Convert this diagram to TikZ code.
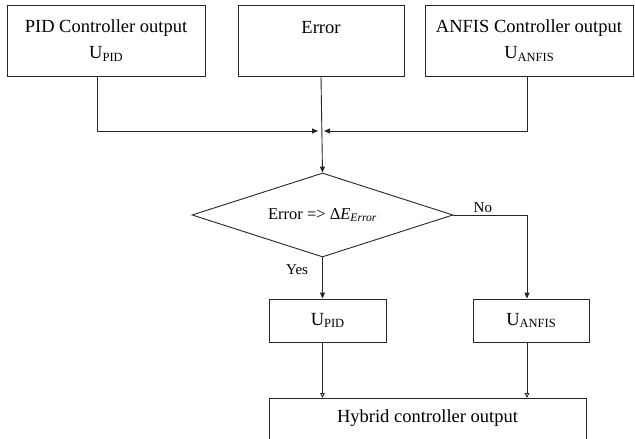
\documentclass[tikz,border=0pt]{standalone}
\usepackage{fontspec}
\setmainfont{Liberation Serif}
\usetikzlibrary{shapes.geometric,arrows.meta}

\newcommand{\usub}[1]{U\raisebox{-2.5pt}{\fontsize{12.5}{12.5}\selectfont #1}}

\tikzset{
	blk/.style={draw=black!85, line width=0.9pt, inner sep=0pt, align=center,
		font=\fontsize{18.5}{26}\selectfont},
	dec/.style={draw=black!85, line width=0.9pt, diamond, aspect=3.1, inner sep=0pt,
		font=\fontsize{16.5}{19}\selectfont},
	tip/.style={draw=black!85, line width=0.9pt, -{Triangle[length=6pt,width=5pt]}},
	otip/.style={draw=black!85, line width=0.9pt, -{Triangle[open,length=5pt,width=4.5pt]}},
	lbl/.style={font=\fontsize{15}{17}\selectfont, inner sep=2pt}
}

\begin{document}
\begin{tikzpicture}[x=1pt, y=-1pt]
	\useasboundingbox (0,0) rectangle (635,439);
	\clip (0,0) rectangle (635,439);

	\node[blk, minimum width=198pt, minimum height=71pt] (pid) at (106,40.5) {PID Controller output\\ \usub{PID}};
	\node[blk, minimum width=166pt, minimum height=71pt] (err) at (321,40.5) {Error\\ \mbox{}};
	\node[blk, minimum width=208pt, minimum height=71pt] (anfis) at (529,40.5) {ANFIS Controller output\\ \usub{ANFIS}};

	\coordinate (jn) at (err.south |- 0,131);

	\node[dec, minimum width=261pt, minimum height=84pt] (cond) at (322.5,215) {Error => Δ\textit{E}\textsubscript{\textit{Error}}};

	\node[blk, minimum width=117pt, minimum height=43pt] (upid) at (327.5,320.5) {\usub{PID}};
	\node[blk, minimum width=116pt, minimum height=43pt] (uanfis) at (531,320.5) {\usub{ANFIS}};

	\node[blk, minimum width=317pt, minimum height=62pt, anchor=north] (hyb) at (427.5,398) {Hybrid controller output\\ \mbox{}};

	\draw[tip] ([xshift=-9pt]pid.south) |- ([xshift=-3pt]jn);
	\draw[tip] ([xshift=-2pt]anfis.south) |- ([xshift=3pt]jn);
	\draw[tip] (err.south) -- (cond.north);

	\draw[tip] (cond.east) -| ([xshift=-4pt]uanfis.north) node[lbl, pos=0.2, above] (no) {No};
	\draw[tip] (cond.south) -- (cond.south |- upid.north) node[lbl, pos=0.3, left=12pt] (yes) {Yes};

	\draw[otip] (cond.south |- upid.south) -- (cond.south |- hyb.north);
	\draw[otip] ([xshift=-4pt]uanfis.south) -- ([xshift=-4pt]uanfis.south |- hyb.north);
\end{tikzpicture}
\end{document}
